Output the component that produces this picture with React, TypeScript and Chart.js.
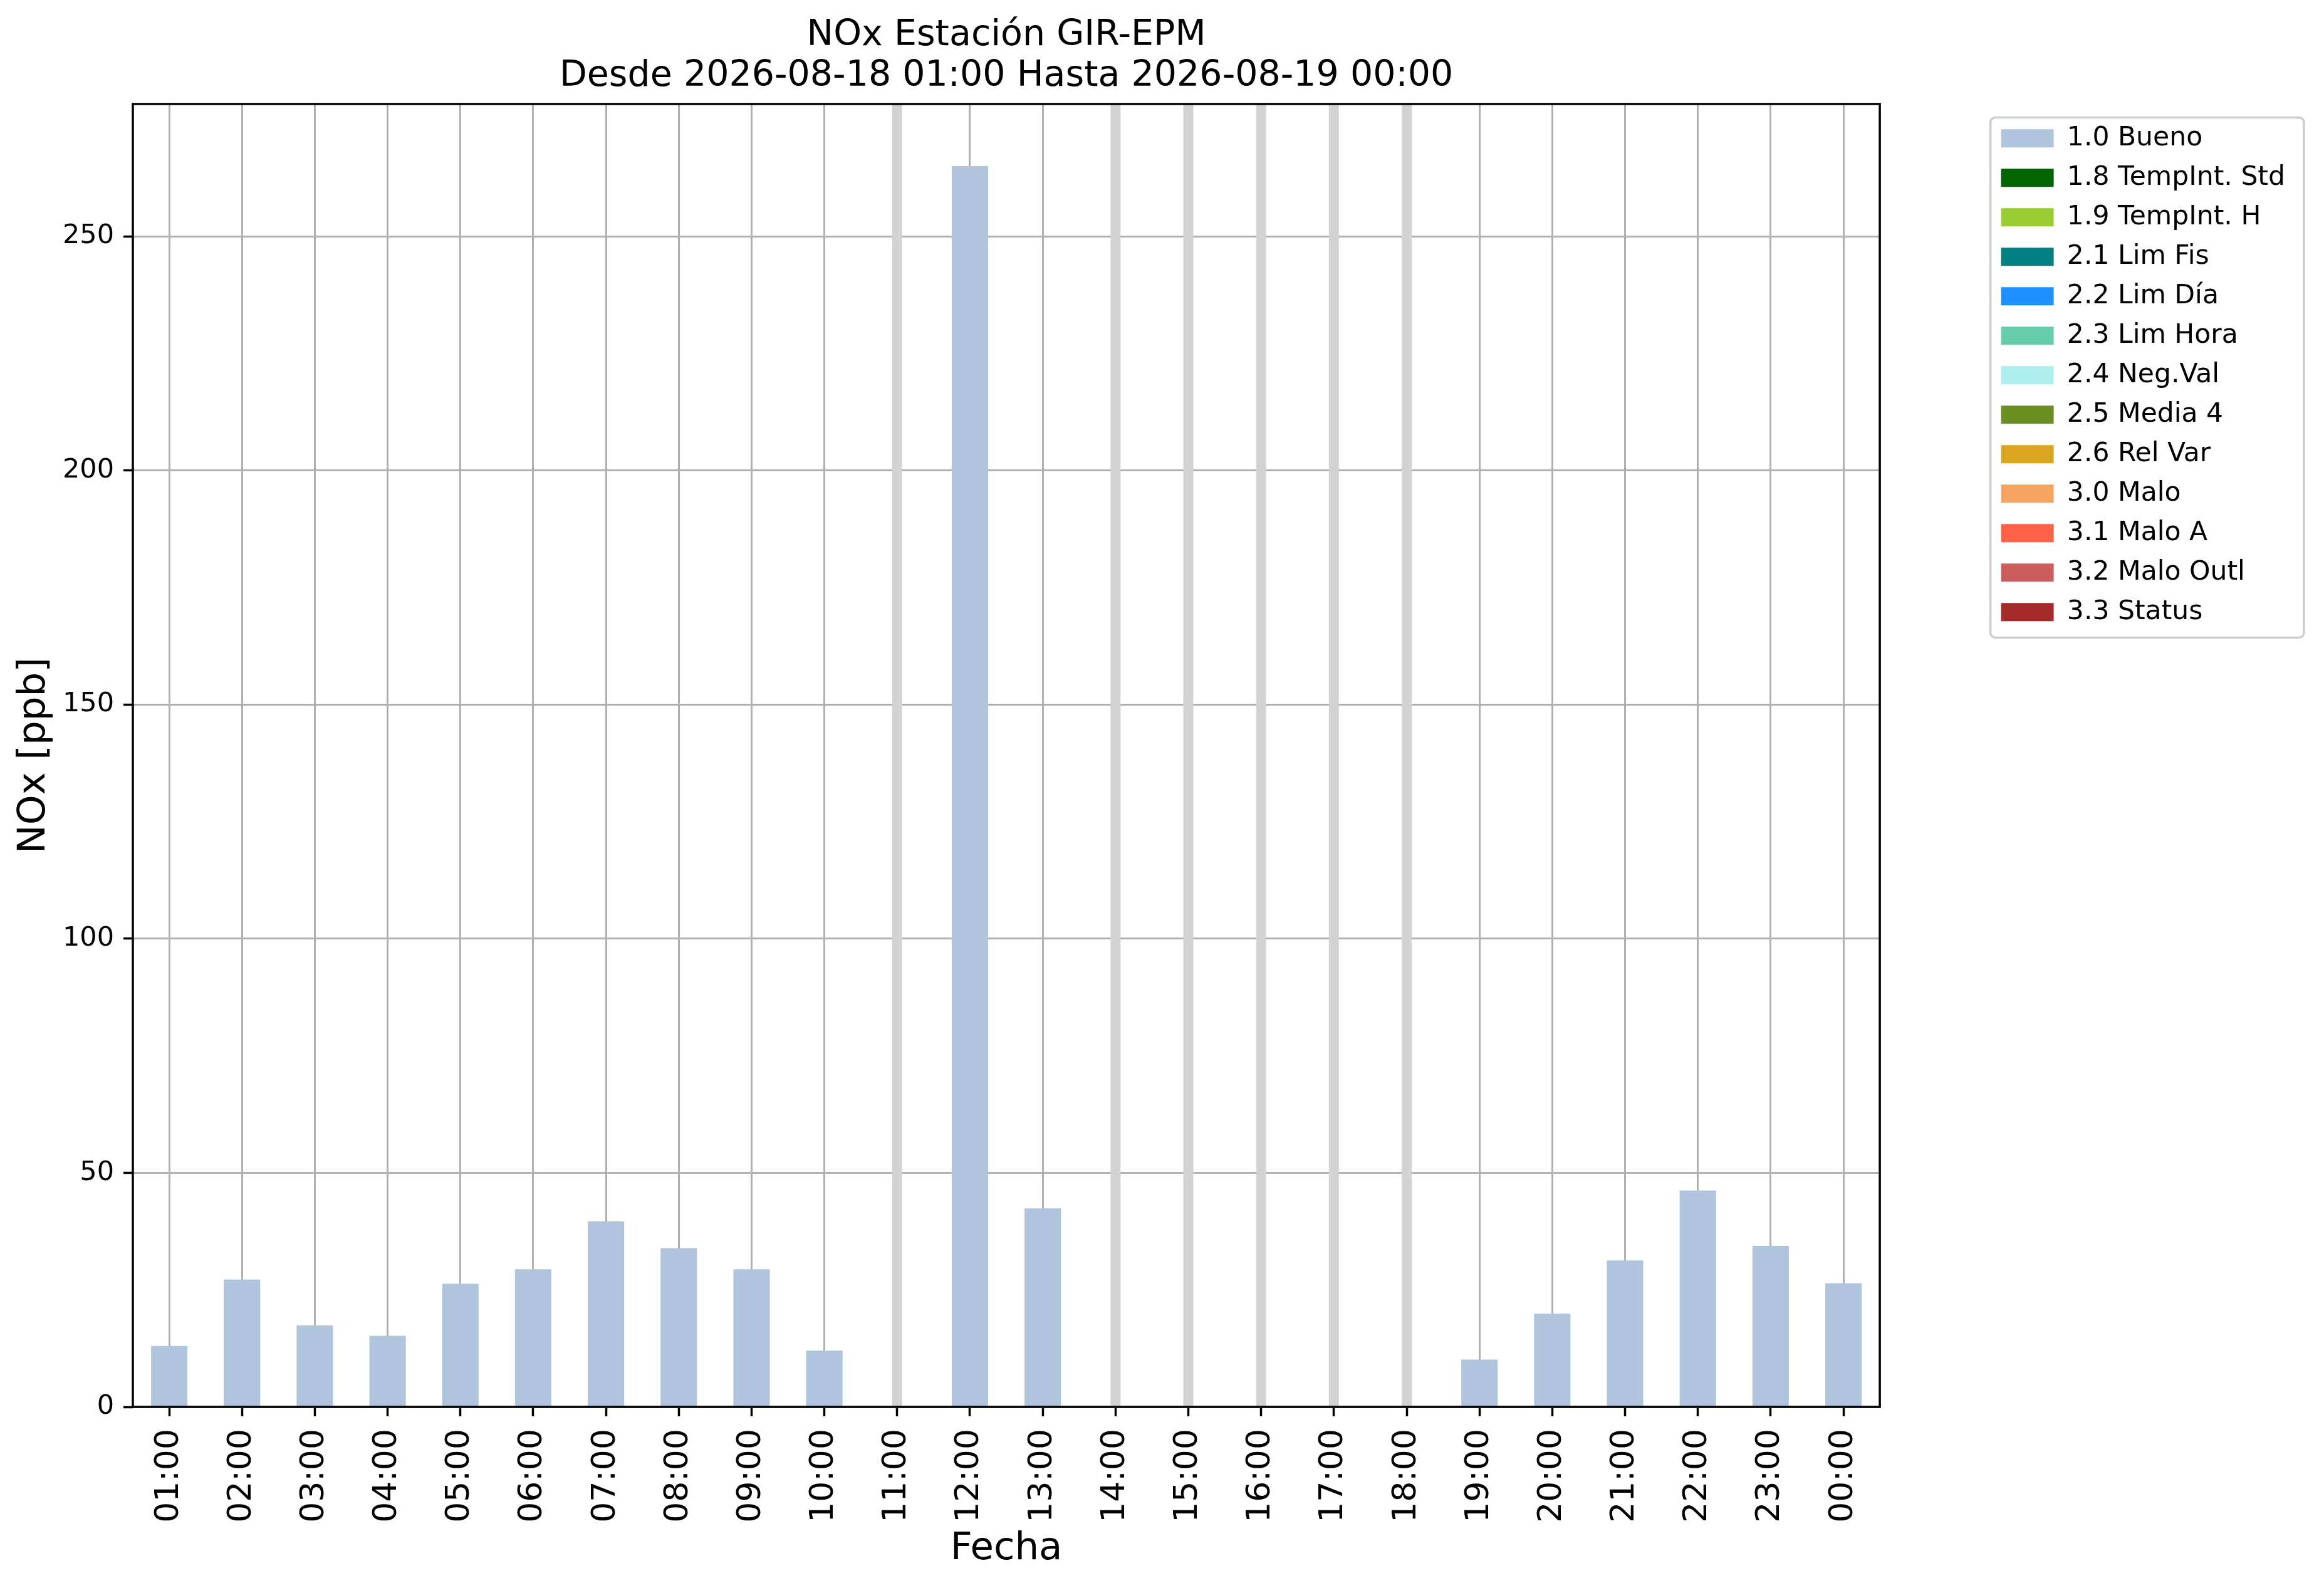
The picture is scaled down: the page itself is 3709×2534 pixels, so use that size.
import { useEffect, useRef } from 'react';
import Chart from 'chart.js/auto';

const hours = [
  '01:00', '02:00', '03:00', '04:00', '05:00', '06:00', '07:00', '08:00',
  '09:00', '10:00', '11:00', '12:00', '13:00', '14:00', '15:00', '16:00',
  '17:00', '18:00', '19:00', '20:00', '21:00', '22:00', '23:00', '00:00',
];

// NOx [ppb] flagged 1.0 Bueno, null = no data for that hour
const noxBueno = [
  13.0, 27.2, 17.4, 15.2, 26.3, 29.4, 39.6, 33.9, 29.4, 12.0, null, 265.0,
  42.4, null, null, null, null, null, 10.1, 19.9, 31.3, 46.2, 34.4, 26.4,
];

const flagLabels = [
  '1.0 Bueno', '1.8 TempInt. Std', '1.9 TempInt. H', '2.1 Lim Fis', '2.2 Lim Día',
  '2.3 Lim Hora', '2.4 Neg.Val', '2.5 Media 4', '2.6 Rel Var', '3.0 Malo',
  '3.1 Malo A', '3.2 Malo Outl', '3.3 Status',
];

const flagColors = [
  '#b0c4de', '#006400', '#9acd32', '#008080', '#1e90ff', '#66cdaa', '#afeeee',
  '#6b8e23', '#daa520', '#f4a460', '#ff6347', '#cd5c5c', '#a52a2a',
];

const emptyFlag = hours.map(() => null);

const yMax = 278.25;
const yStep = 50;

const FONT = "'DejaVu Sans', sans-serif";

// grey bands where an hour has no data, under the grid
const missingBands = {
  id: 'missingBands',
  beforeDatasetsDraw(chart: any) {
    const { ctx, chartArea, scales } = chart;
    ctx.save();
    ctx.fillStyle = '#d3d3d3';
    noxBueno.forEach((v, i) => {
      if (v === null) {
        const px = scales.x.getPixelForValue(i);
        ctx.fillRect(px - 8, chartArea.top, 16, chartArea.bottom - chartArea.top);
      }
    });
    ctx.restore();
  },
};

// axes box + legend frame
const frames = {
  id: 'frames',
  afterDraw(chart: any) {
    const { ctx, chartArea } = chart;
    ctx.save();
    ctx.strokeStyle = '#000';
    ctx.lineWidth = 3.5;
    ctx.strokeRect(chartArea.left, chartArea.top, chartArea.right - chartArea.left, chartArea.bottom - chartArea.top);

    const boxes = chart.legend?.legendHitBoxes;
    if (boxes && boxes.length) {
      const first = boxes[0];
      const last = boxes[boxes.length - 1];
      const left = first.left - 17;
      const top = first.top - 12;
      const right = Math.max(...boxes.map((b: any) => b.left + b.width)) + 30;
      const bottom = last.top + 62;
      ctx.strokeStyle = '#cccccc';
      ctx.lineWidth = 3.5;
      ctx.beginPath();
      if (ctx.roundRect) ctx.roundRect(left, top, right - left, bottom - top, 8);
      else ctx.rect(left, top, right - left, bottom - top);
      ctx.stroke();
    }
    ctx.restore();
  },
};

export default function App() {
  const canvasRef = useRef<HTMLCanvasElement | null>(null);

  useEffect(() => {
    document.body.style.margin = '0';
    if (!canvasRef.current) return;

    const chart = new Chart(canvasRef.current, {
      type: 'bar',
      data: {
        labels: hours,
        datasets: flagLabels.map((label, i) => ({
          label,
          data: i === 0 ? noxBueno : emptyFlag,
          backgroundColor: flagColors[i],
          borderWidth: 0,
          barPercentage: 0.5,
          categoryPercentage: 1,
        })),
      },
      options: {
        animation: false,
        responsive: true,
        maintainAspectRatio: false,
        devicePixelRatio: 1,
        layout: { padding: { left: 0, right: 52, top: 0, bottom: 0 } },
        font: { family: FONT },
        scales: {
          x: {
            stacked: true,
            offset: true,
            z: 1,
            grid: {
              offset: false,
              color: '#b0b0b0',
              lineWidth: 3,
              tickLength: 15,
              tickColor: '#000',
              tickWidth: 3.5,
            },
            border: { display: false },
            ticks: {
              autoSkip: false,
              minRotation: 90,
              maxRotation: 90,
              padding: 20,
              color: '#000',
              font: { family: FONT, size: 52 },
            },
            title: {
              display: true,
              text: 'Fecha',
              color: '#000',
              font: { family: FONT, size: 61 },
              padding: { top: 0, bottom: 25 },
            },
            afterFit: (scale: any) => { scale.height = 289; },
          },
          y: {
            stacked: true,
            min: 0,
            max: yMax,
            z: 1,
            grid: {
              color: '#b0b0b0',
              lineWidth: 3,
              tickLength: 15,
              tickColor: '#000',
              tickWidth: 3.5,
            },
            border: { display: false },
            ticks: {
              stepSize: yStep,
              includeBounds: false,
              padding: 15,
              color: '#000',
              font: { family: FONT, size: 43 },
            },
            title: {
              display: true,
              text: 'NOx [ppb]',
              color: '#000',
              font: { family: FONT, size: 61 },
              padding: { top: 19, bottom: 0 },
            },
            afterFit: (scale: any) => { scale.width = 212; },
          },
          // empty spacer between the axes and the legend
          gap: {
            type: 'linear',
            position: 'right',
            grid: { display: false },
            border: { display: false },
            ticks: { display: false },
            afterFit: (scale: any) => { scale.width = 173; },
          },
        },
        plugins: {
          title: {
            display: true,
            fullSize: false,
            text: ['NOx Estación GIR-EPM', 'Desde 2026-08-18 01:00 Hasta 2026-08-19 00:00'],
            color: '#000',
            font: { family: FONT, size: 57, weight: 'normal', lineHeight: 1.14 },
            padding: { top: 25, bottom: 11 },
          },
          legend: {
            position: 'right',
            align: 'start',
            fullSize: false,
            title: {
              display: true,
              text: '',
              font: { size: 1, lineHeight: 1 },
              padding: { top: 6, bottom: 6 },
            },
            labels: {
              boxWidth: 84,
              boxHeight: 29,
              padding: 20.5,
              color: '#000',
              font: { family: FONT, size: 42.5 },
            },
          },
          tooltip: { enabled: false },
        },
      } as any,
      plugins: [missingBands, frames],
    });

    return () => chart.destroy();
  }, []);

  return (
    <div style={{ width: '3709px', height: '2534px', background: '#fff' }}>
      <canvas ref={canvasRef} />
    </div>
  );
}
